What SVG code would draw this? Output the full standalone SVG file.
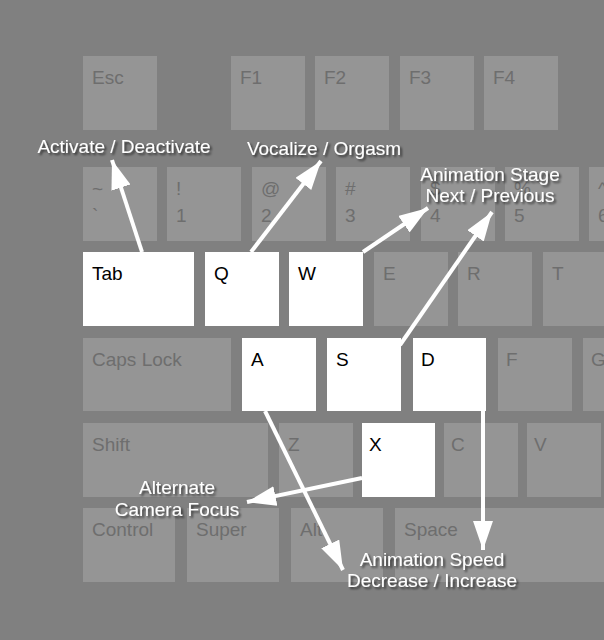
<svg xmlns="http://www.w3.org/2000/svg" width="604" height="640" viewBox="0 0 604 640">
<defs>
<style>
.k{fill:#959595}
.s{fill:#ffffff}
.kt{font-family:"Liberation Sans",Arial,sans-serif;font-size:19px;fill:#6e6e6e}
.st{font-family:"Liberation Sans",Arial,sans-serif;font-size:19px;fill:#000000}
.lb{font-family:"Liberation Sans",Arial,sans-serif;font-size:19px;fill:#ffffff;text-anchor:middle;filter:url(#sh)}
.ar{stroke:#ffffff;stroke-width:4;fill:none;marker-end:url(#ah)}
</style>
<filter id="sh" x="-10%" y="-30%" width="120%" height="160%">
<feDropShadow dx="2" dy="2" stdDeviation="1" flood-color="#000000" flood-opacity="0.6"/>
</filter>
<marker id="ah" markerUnits="userSpaceOnUse" markerWidth="30" markerHeight="22" refX="29" refY="10" orient="auto" viewBox="0 0 30 22">
<path d="M0,0 L29,10 L0,20 Z" fill="#ffffff"/>
</marker>
</defs>
<rect width="604" height="640" fill="#808080"/>

<g id="row-f">
<g id="key-esc"><rect class="k" x="83" y="56" width="74" height="74"/><text class="kt" x="92" y="84">Esc</text></g>
<g id="key-f1"><rect class="k" x="231" y="56" width="74" height="74"/><text class="kt" x="240" y="84">F1</text></g>
<g id="key-f2"><rect class="k" x="315" y="56" width="74" height="74"/><text class="kt" x="324" y="84">F2</text></g>
<g id="key-f3"><rect class="k" x="400" y="56" width="74" height="74"/><text class="kt" x="409" y="84">F3</text></g>
<g id="key-f4"><rect class="k" x="484" y="56" width="74" height="74"/><text class="kt" x="493" y="84">F4</text></g>
</g>

<g id="row-num">
<g id="key-tilde"><rect class="k" x="83" y="167" width="74" height="74"/><text class="kt" x="92" y="195">~</text><text class="kt" x="92" y="222">`</text></g>
<g id="key-1"><rect class="k" x="167" y="167" width="74" height="74"/><text class="kt" x="176" y="195">!</text><text class="kt" x="176" y="222">1</text></g>
<g id="key-2"><rect class="k" x="252" y="167" width="74" height="74"/><text class="kt" x="261" y="195">@</text><text class="kt" x="261" y="222">2</text></g>
<g id="key-3"><rect class="k" x="336" y="167" width="74" height="74"/><text class="kt" x="345" y="195">#</text><text class="kt" x="345" y="222">3</text></g>
<g id="key-4"><rect class="k" x="421" y="167" width="74" height="74"/><text class="kt" x="430" y="195">$</text><text class="kt" x="430" y="222">4</text></g>
<g id="key-5"><rect class="k" x="505" y="167" width="74" height="74"/><text class="kt" x="514" y="195">%</text><text class="kt" x="514" y="222">5</text></g>
<g id="key-6"><rect class="k" x="589" y="167" width="74" height="74"/><text class="kt" x="598" y="195">^</text><text class="kt" x="598" y="222">6</text></g>
</g>

<g id="row-tab">
<g id="key-tab"><rect class="s" x="83" y="252" width="111" height="74"/><text class="st" x="92" y="280">Tab</text></g>
<g id="key-q"><rect class="s" x="205" y="252" width="74" height="74"/><text class="st" x="214" y="280">Q</text></g>
<g id="key-w"><rect class="s" x="289" y="252" width="74" height="74"/><text class="st" x="298" y="280">W</text></g>
<g id="key-e"><rect class="k" x="374" y="252" width="74" height="74"/><text class="kt" x="383" y="280">E</text></g>
<g id="key-r"><rect class="k" x="458" y="252" width="74" height="74"/><text class="kt" x="467" y="280">R</text></g>
<g id="key-t"><rect class="k" x="543" y="252" width="74" height="74"/><text class="kt" x="552" y="280">T</text></g>
</g>

<g id="row-caps">
<g id="key-caps"><rect class="k" x="83" y="338" width="148" height="73"/><text class="kt" x="92" y="366">Caps Lock</text></g>
<g id="key-a"><rect class="s" x="242" y="338" width="74" height="73"/><text class="st" x="251" y="366">A</text></g>
<g id="key-s"><rect class="s" x="327" y="338" width="74" height="73"/><text class="st" x="336" y="366">S</text></g>
<g id="key-d"><rect class="s" x="413" y="338" width="73" height="73"/><text class="st" x="421" y="366">D</text></g>
<g id="key-f"><rect class="k" x="498" y="338" width="74" height="73"/><text class="kt" x="506" y="366">F</text></g>
<g id="key-g"><rect class="k" x="583" y="338" width="74" height="73"/><text class="kt" x="591" y="366">G</text></g>
</g>

<g id="row-shift">
<g id="key-shift"><rect class="k" x="83" y="423" width="185" height="74"/><text class="kt" x="92" y="451">Shift</text></g>
<g id="key-z"><rect class="k" x="279" y="423" width="74" height="74"/><text class="kt" x="288" y="451">Z</text></g>
<g id="key-x"><rect class="s" x="362" y="423" width="73" height="74"/><text class="st" x="369" y="451">X</text></g>
<g id="key-c"><rect class="k" x="444" y="423" width="74" height="74"/><text class="kt" x="451" y="451">C</text></g>
<g id="key-v"><rect class="k" x="527" y="423" width="74" height="74"/><text class="kt" x="534" y="451">V</text></g>
</g>

<g id="row-bottom">
<g id="key-control"><rect class="k" x="83" y="508" width="92" height="74"/><text class="kt" x="92" y="536">Control</text></g>
<g id="key-super"><rect class="k" x="187" y="508" width="92" height="74"/><text class="kt" x="196" y="536">Super</text></g>
<g id="key-alt"><rect class="k" x="291" y="508" width="92" height="74"/><text class="kt" x="300" y="536">Alt</text></g>
<g id="key-space"><rect class="k" x="395" y="508" width="260" height="74"/><text class="kt" x="404" y="536">Space</text></g>
</g>

<g id="connectors">
<line class="ar" x1="142" y1="252" x2="112" y2="160"/>
<line class="ar" x1="251" y1="252" x2="321" y2="161"/>
<line class="ar" x1="363" y1="252" x2="428" y2="208"/>
<line class="ar" x1="400" y1="345" x2="492" y2="212"/>
<line class="ar" x1="265" y1="411" x2="343" y2="570"/>
<line class="ar" x1="483" y1="411" x2="483" y2="550"/>
<line class="ar" x1="362" y1="478" x2="247" y2="502"/>
</g>

<g id="labels">
<g id="label-activate"><text class="lb" x="124" y="153">Activate / Deactivate</text></g>
<g id="label-vocalize"><text class="lb" x="324" y="155">Vocalize / Orgasm</text></g>
<g id="label-stage"><text class="lb" x="490" y="181">Animation Stage</text><text class="lb" x="490" y="202">Next / Previous</text></g>
<g id="label-camera"><text class="lb" x="177" y="494">Alternate</text><text class="lb" x="177" y="516">Camera Focus</text></g>
<g id="label-speed"><text class="lb" x="432" y="566">Animation Speed</text><text class="lb" x="432" y="587">Decrease / Increase</text></g>
</g>
</svg>
